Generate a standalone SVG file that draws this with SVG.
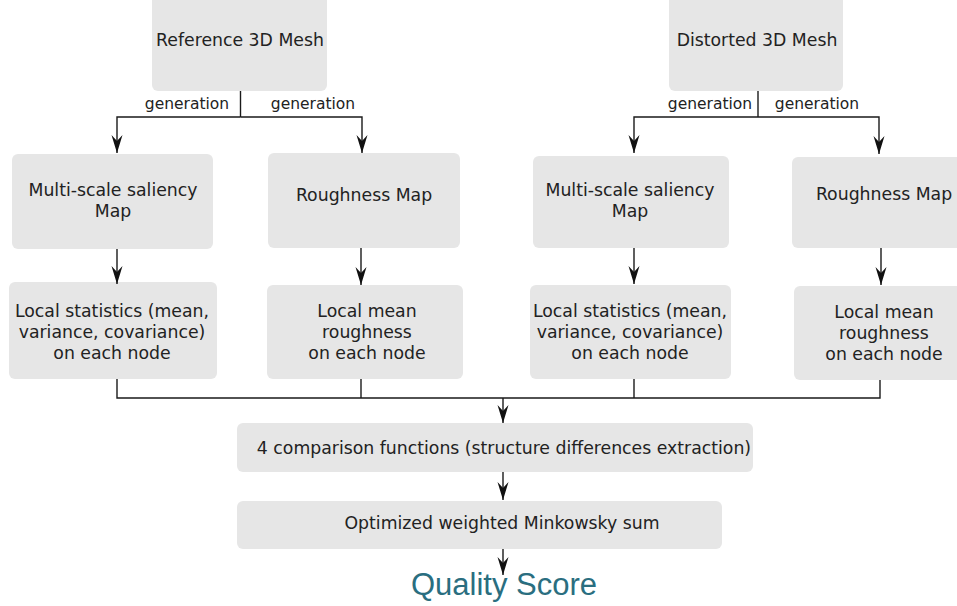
<svg xmlns="http://www.w3.org/2000/svg" width="957" height="606" viewBox="0 0 957 606">
<style>
.box{fill:#e6e6e6}
.t{font-family:"DejaVu Sans",sans-serif;font-size:17.3px;fill:#222;text-anchor:middle}
.g{font-family:"DejaVu Sans",sans-serif;font-size:15.5px;fill:#222;text-anchor:middle}
.c{fill:none;stroke:#1a1a1a;stroke-width:1.4}
.q{font-family:"Liberation Sans",Arial,sans-serif;font-size:31px;fill:#2a6e80;text-anchor:middle}
</style>
<defs>
<marker id="ah" markerUnits="userSpaceOnUse" markerWidth="20" markerHeight="12" refX="18" refY="5.5" orient="auto" overflow="visible">
<path d="M0,0 L18,5.5 L0,11 L6,5.5 Z" fill="#111"/>
</marker>
</defs>
<rect width="957" height="606" fill="#fff"/>
<g id="ref"><rect class="box" x="152" y="-6" width="175" height="97" rx="6"/><text class="t" x="240" y="46">Reference 3D Mesh</text></g>
<g id="dist"><rect class="box" x="669" y="-6" width="174" height="97" rx="6"/><text class="t" x="757" y="46">Distorted 3D Mesh</text></g>
<g id="sal1"><rect class="box" x="12" y="154" width="201" height="95" rx="6"/><text class="t" x="113" y="196">Multi-scale saliency</text><text class="t" x="113" y="217">Map</text></g>
<g id="rough1"><rect class="box" x="268" y="153" width="192" height="95" rx="6"/><text class="t" x="364" y="201">Roughness Map</text></g>
<g id="sal2"><rect class="box" x="533" y="156" width="196" height="92" rx="6"/><text class="t" x="630" y="196">Multi-scale saliency</text><text class="t" x="630" y="217">Map</text></g>
<g id="rough2"><rect class="box" x="792" y="157" width="180" height="91" rx="6"/><text class="t" x="884" y="200">Roughness Map</text></g>
<g id="stat1"><rect class="box" x="9" y="282" width="208" height="97" rx="6"/><text class="t" x="112" y="317">Local statistics (mean,</text><text class="t" x="112" y="338">variance, covariance)</text><text class="t" x="112" y="359">on each node</text></g>
<g id="mean1"><rect class="box" x="267" y="285" width="196" height="94" rx="6"/><text class="t" x="367" y="317">Local mean</text><text class="t" x="367" y="338">roughness</text><text class="t" x="367" y="359">on each node</text></g>
<g id="stat2"><rect class="box" x="530" y="285" width="201" height="94" rx="6"/><text class="t" x="630" y="317">Local statistics (mean,</text><text class="t" x="630" y="338">variance, covariance)</text><text class="t" x="630" y="359">on each node</text></g>
<g id="mean2"><rect class="box" x="794" y="286" width="180" height="94" rx="6"/><text class="t" x="884" y="318">Local mean</text><text class="t" x="884" y="339">roughness</text><text class="t" x="884" y="360">on each node</text></g>
<g id="cmp"><rect class="box" x="237" y="423" width="516" height="49" rx="6"/><text class="t" x="504" y="454">4 comparison functions (structure differences extraction)</text></g>
<g id="mink"><rect class="box" x="237" y="501" width="485" height="48" rx="6"/><text class="t" x="502" y="529">Optimized weighted Minkowsky sum</text></g>
<g id="score"><text class="q" x="504" y="595">Quality Score</text></g>
<g id="connectors">
<path class="c" d="M240.5,91 V117"/>
<path class="c" d="M240.5,117 H117 V153" marker-end="url(#ah)"/>
<path class="c" d="M240.5,117 H362 V153" marker-end="url(#ah)"/>
<path class="c" d="M758,91 V117"/>
<path class="c" d="M758,117 H634 V153" marker-end="url(#ah)"/>
<path class="c" d="M758,117 H879 V154" marker-end="url(#ah)"/>
<path class="c" d="M117,249 V284" marker-end="url(#ah)"/>
<path class="c" d="M361,248 V285" marker-end="url(#ah)"/>
<path class="c" d="M634,248 V284" marker-end="url(#ah)"/>
<path class="c" d="M881,248 V285" marker-end="url(#ah)"/>
<path class="c" d="M117,379 V398 H880 V380"/>
<path class="c" d="M361,379 V398"/>
<path class="c" d="M634,379 V398"/>
<path class="c" d="M503,398 V423" marker-end="url(#ah)"/>
<path class="c" d="M503,472 V500" marker-end="url(#ah)"/>
<path class="c" d="M503,549 V575" marker-end="url(#ah)"/>
</g>
<g id="labels">
<text class="g" x="187" y="109">generation</text>
<text class="g" x="313" y="109">generation</text>
<text class="g" x="710" y="109">generation</text>
<text class="g" x="817" y="109">generation</text>
</g>
</svg>
